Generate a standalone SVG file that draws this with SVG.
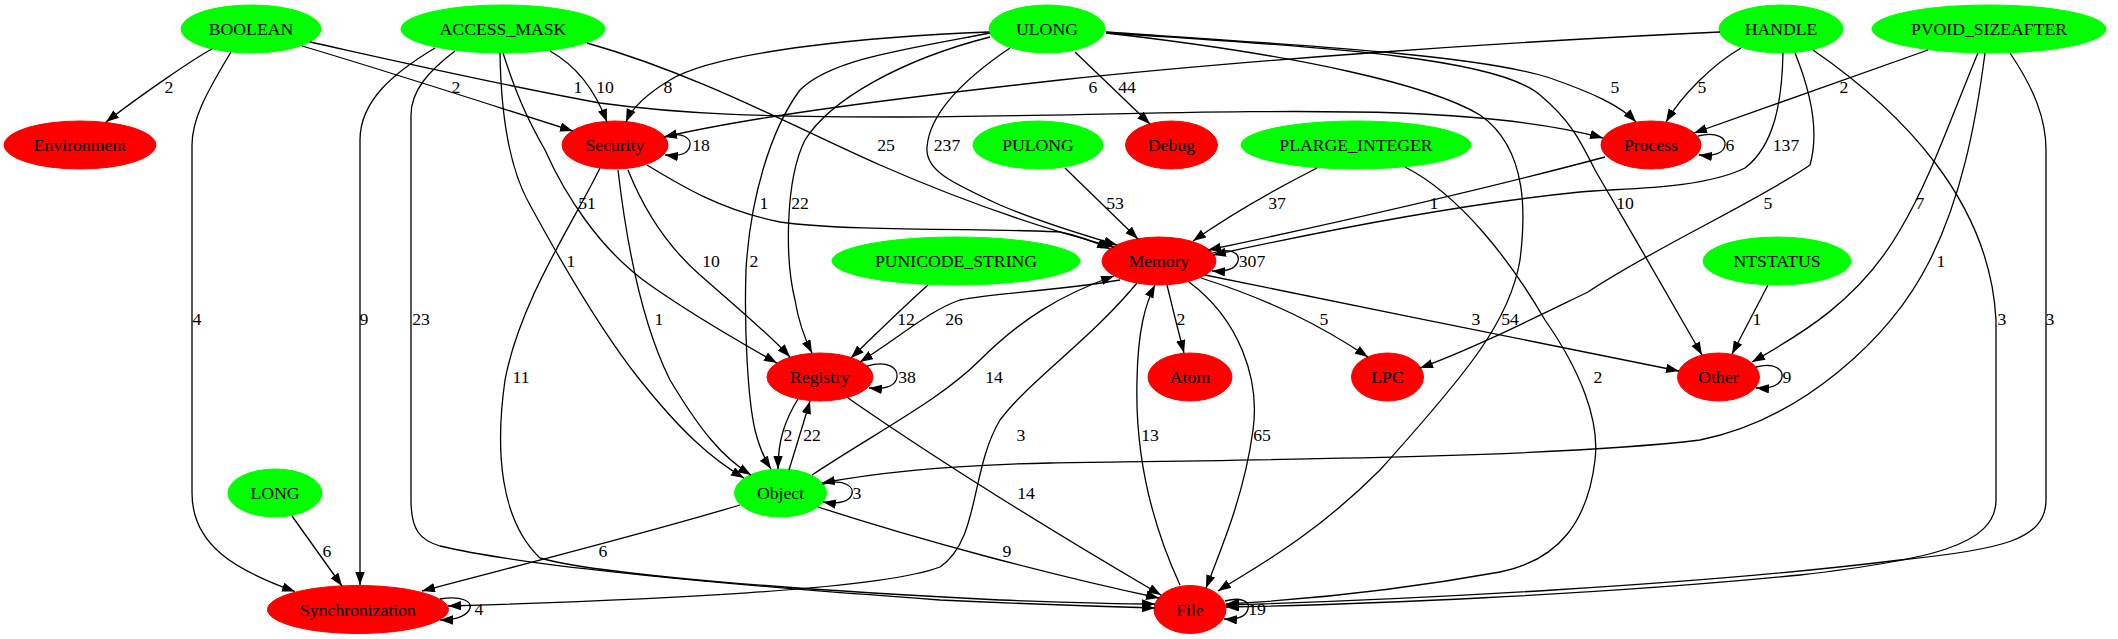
<svg xmlns="http://www.w3.org/2000/svg" width="2118" height="639" viewBox="0 0 2118 639" font-family="'Liberation Serif', 'Times New Roman', serif">
<style>
text{font-family:'Liberation Serif','Times New Roman',serif;font-size:17.7px;text-anchor:middle;fill:#000}
.g{fill:#00ff00;stroke:#00ff00}
.r{fill:#ff0000;stroke:#ff0000}
#edges path{fill:none;stroke:#000;stroke-width:1.3;marker-end:url(#ah)}
</style>
<defs>
<marker id="ah" markerUnits="userSpaceOnUse" markerWidth="14" markerHeight="10" refX="13" refY="4.7" orient="auto">
<path d="M0,0 L13,4.7 L0,9.4 z" fill="#000"/>
</marker>
</defs>
<rect width="2118" height="639" fill="#fff"/>
<g id="nodes">
<g id="BOOLEAN"><ellipse class="g" cx="251" cy="29" rx="70" ry="24"/><text x="251" y="35">BOOLEAN</text></g>
<g id="ACCESS_MASK"><ellipse class="g" cx="503" cy="29" rx="102" ry="24"/><text x="503" y="35">ACCESS_MASK</text></g>
<g id="ULONG"><ellipse class="g" cx="1047" cy="29" rx="58" ry="24"/><text x="1047" y="35">ULONG</text></g>
<g id="HANDLE"><ellipse class="g" cx="1781" cy="29" rx="62" ry="24"/><text x="1781" y="35">HANDLE</text></g>
<g id="PVOID_SIZEAFTER"><ellipse class="g" cx="1989" cy="29" rx="117" ry="24"/><text x="1989" y="35">PVOID_SIZEAFTER</text></g>
<g id="Environment"><ellipse class="r" cx="80" cy="145" rx="76" ry="24"/><text x="80" y="151">Environment</text></g>
<g id="Security"><ellipse class="r" cx="615" cy="145" rx="53" ry="24"/><text x="615" y="151">Security</text></g>
<g id="PULONG"><ellipse class="g" cx="1038" cy="145" rx="65" ry="24"/><text x="1038" y="151">PULONG</text></g>
<g id="Debug"><ellipse class="r" cx="1171.5" cy="145" rx="46" ry="24"/><text x="1171.5" y="151">Debug</text></g>
<g id="PLARGE_INTEGER"><ellipse class="g" cx="1356" cy="145" rx="115" ry="24"/><text x="1356" y="151">PLARGE_INTEGER</text></g>
<g id="Process"><ellipse class="r" cx="1651" cy="145" rx="50" ry="24"/><text x="1651" y="151">Process</text></g>
<g id="PUNICODE_STRING"><ellipse class="g" cx="956" cy="261" rx="124" ry="24"/><text x="956" y="267">PUNICODE_STRING</text></g>
<g id="Memory"><ellipse class="r" cx="1159" cy="261" rx="57" ry="24"/><text x="1159" y="267">Memory</text></g>
<g id="NTSTATUS"><ellipse class="g" cx="1777" cy="261" rx="74" ry="24"/><text x="1777" y="267">NTSTATUS</text></g>
<g id="Registry"><ellipse class="r" cx="820" cy="377" rx="53" ry="24"/><text x="820" y="383">Registry</text></g>
<g id="Atom"><ellipse class="r" cx="1190" cy="377" rx="42" ry="24"/><text x="1190" y="383">Atom</text></g>
<g id="LPC"><ellipse class="r" cx="1387.5" cy="377" rx="36" ry="24"/><text x="1387.5" y="383">LPC</text></g>
<g id="Other"><ellipse class="r" cx="1718.5" cy="377" rx="41" ry="24"/><text x="1718.5" y="383">Other</text></g>
<g id="Object"><ellipse class="g" cx="780.5" cy="493" rx="46" ry="24"/><text x="780.5" y="499">Object</text></g>
<g id="LONG"><ellipse class="g" cx="275" cy="493" rx="47" ry="24"/><text x="275" y="499">LONG</text></g>
<g id="Synchronization"><ellipse class="r" cx="358" cy="609.5" rx="90.5" ry="24"/><text x="358" y="615.5">Synchronization</text></g>
<g id="File"><ellipse class="r" cx="1190" cy="609.5" rx="36" ry="24"/><text x="1190" y="615.5">File</text></g>
</g>
<g id="edges">
<path d="M212,49 C195,58 145,92 106,122"/><text x="169" y="93">2</text>
<path d="M231,52 C205,95 192,120 192,145 L192,493 C192,545 235,570 295,591.5"/><text x="197" y="325">4</text>
<path d="M302,46 C400,75 500,108 573,131"/><text x="456" y="93">2</text>
<path d="M310,42 C400,62 500,85 600,103 C680,114 760,117 900,117 C1050,117 1250,108 1400,113 C1500,117 1560,126 1603,138"/><text x="578" y="93">1</text>
<path d="M550,51 C575,65 595,90 607,122"/><text x="605" y="93">10</text>
<path d="M587,43 C700,75 800,130 880,165 C960,200 1040,228 1114,247"/><text x="886" y="151">25</text>
<path d="M503,53 C515,90 525,115 545,150 C565,195 600,250 650,285 C700,320 745,345 777,363"/><text x="587" y="209">51</text>
<path d="M500,53 C501,120 510,170 530,205 C560,260 600,330 640,380 C680,430 710,458 744,478"/><text x="571" y="267">1</text>
<path d="M435,48 C395,72 360,100 360,140 L360,585"/><text x="364" y="325">9</text>
<path d="M455,51 C430,70 411,90 411,115 L411,500 C411,530 420,540 440,546 C520,565 700,583 940,600 C1050,605 1120,607 1155,608"/><text x="421" y="325">23</text>
<path d="M664,137 C684,130 691,140 690,145 C689,152 682,157 665,155"/><text x="701" y="151">18</text>
<path d="M628,170 C640,200 660,240 700,275 C740,310 770,335 790,357"/><text x="711" y="267">10</text>
<path d="M618,170 C625,230 640,320 670,380 C700,430 722,457 751,475"/><text x="659" y="325">1</text>
<path d="M600,168 C575,220 520,300 505,380 C495,450 500,520 540,558 C600,575 800,590 1000,600 C1080,603 1130,604 1155,604"/><text x="521" y="383">11</text>
<path d="M647,165 C680,185 720,210 780,222 C850,232 1000,228 1060,232 C1080,236 1095,242 1110,249"/><text x="764" y="209">1</text>
<path d="M989,32 C880,36 720,50 670,80 C645,95 632,108 626,122"/><text x="668" y="93">8</text>
<path d="M1075,52 L1150,124"/><text x="1127" y="93">44</text>
<path d="M1010,48 C970,75 930,110 927,147 C925,170 950,182 1000,205 C1040,222 1080,234 1117,245"/><text x="947" y="151">237</text>
<path d="M990,33 C900,50 830,60 800,90 C770,130 750,200 746,270 C744,330 748,400 755,430 C760,450 765,460 771,469"/><text x="754" y="267">2</text>
<path d="M990,37 C900,60 830,100 805,140 C785,180 785,260 795,300 C800,330 808,345 812,353"/><text x="800" y="209">22</text>
<path d="M1106,32 C1300,45 1480,55 1550,78 C1590,92 1620,105 1636,122"/><text x="1615" y="93">5</text>
<path d="M1106,33 C1300,55 1430,85 1480,115 C1530,150 1525,220 1520,260 C1510,320 1470,370 1380,470 C1310,540 1250,570 1218,591"/><text x="1510" y="325">54</text>
<path d="M1106,33 C1350,48 1500,60 1540,95 C1570,120 1580,140 1595,170 C1630,230 1672,302 1702,355"/><text x="1625" y="209">10</text>
<path d="M1720,32 C1500,42 1250,60 1060,80 C900,98 760,115 664,137"/><text x="1093" y="93">6</text>
<path d="M1741,48 C1712,65 1682,95 1666,122"/><text x="1702" y="93">5</text>
<path d="M1783,53 C1782,100 1775,145 1745,168 C1700,190 1620,188 1580,192 C1450,205 1300,236 1213,255"/><text x="1786" y="151">137</text>
<path d="M1795,53 C1810,90 1820,130 1810,165 C1760,200 1650,250 1588,292 C1530,320 1470,350 1420,368"/><text x="1768" y="209">5</text>
<path d="M1813,50 C1900,110 1990,200 1996,320 L1996,500 C1996,545 1930,560 1800,575 C1600,595 1350,605 1226,607"/><text x="2002" y="325">3</text>
<path d="M1928,50 L1694,133"/><text x="1844" y="93">2</text>
<path d="M1978,53 C1950,120 1930,180 1900,230 C1860,300 1800,335 1752,362"/><text x="1920" y="209">7</text>
<path d="M1985,53 C1975,130 1960,200 1930,260 C1890,340 1800,420 1700,440 C1550,458 1250,460 1050,463 C950,465 880,472 822,483"/><text x="1941" y="267">1</text>
<path d="M2010,53 C2035,90 2046,120 2046,150 L2046,500 C2046,540 2000,550 1900,560 C1700,585 1400,600 1226,605"/><text x="2050" y="325">3</text>
<path d="M1065,168 L1138,239"/><text x="1115" y="209">53</text>
<path d="M1317,168 C1270,192 1230,215 1193,241"/><text x="1277" y="209">37</text>
<path d="M1405,167 C1460,195 1510,260 1545,320 C1580,370 1600,420 1595,460 C1588,520 1560,560 1500,572 C1400,590 1300,600 1226,604"/><text x="1598" y="383">2</text>
<path d="M928,285 C900,310 875,335 851,358"/><text x="906" y="325">12</text>
<path d="M1120,280 C1050,292 990,293 960,300 C930,310 900,337 860,362"/><text x="954" y="325">26</text>
<path d="M812,475 C880,430 940,400 980,360 C1020,320 1060,295 1114,276"/><text x="994" y="383">14</text>
<path d="M1213,253 C1232,247 1240,254 1238,261 C1236,268 1229,272 1212,271"/><text x="1252" y="267">307</text>
<path d="M1167,285 C1173,310 1178,330 1184,353"/><text x="1181" y="325">2</text>
<path d="M1201,278 C1270,300 1320,325 1368,357"/><text x="1324" y="325">5</text>
<path d="M1205,275 C1350,305 1550,345 1679,371"/><text x="1476" y="325">3</text>
<path d="M1189,282 C1240,320 1260,380 1253,430 C1245,490 1225,540 1206,588"/><text x="1262" y="441">65</text>
<path d="M1137,283 C1090,340 1030,380 1000,420 C970,470 980,540 940,567 C880,590 650,600 448,606"/><text x="1021" y="441">3</text>
<path d="M867,366 C888,360 898,368 897,377 C896,385 887,390 869,388"/><text x="907" y="383">38</text>
<path d="M798,399 C785,420 778,440 778,469"/><text x="788" y="441">2</text>
<path d="M789,470 C795,450 803,425 810,401"/><text x="812" y="441">22</text>
<path d="M848,398 C930,455 1050,530 1161,595"/><text x="1026" y="499">14</text>
<path d="M823,484 C846,478 854,488 852,494 C850,500 842,505 823,502"/><text x="857" y="499">3</text>
<path d="M740,505 C640,535 520,565 422,591"/><text x="603" y="557">6</text>
<path d="M818,507 C920,540 1050,575 1159,598"/><text x="1007" y="557">9</text>
<path d="M1225,601 C1244,596 1250,603 1248,609 C1246,616 1240,620 1224,619"/><text x="1257" y="615">19</text>
<path d="M1180,585 C1150,520 1135,450 1137,380 C1138,330 1145,305 1155,285"/><text x="1150" y="441">13</text>
<path d="M440,599 C462,595 472,602 470,608 C468,615 458,620 440,620"/><text x="479" y="615">4</text>
<path d="M292,516 L342,586"/><text x="327" y="557">6</text>
<path d="M1768,285 L1732,354"/><text x="1757" y="325">1</text>
<path d="M1756,367 C1775,362 1783,370 1782,377 C1781,384 1773,389 1756,388"/><text x="1787" y="383">9</text>
<path d="M1698,136 C1718,131 1726,139 1725,145 C1724,152 1716,157 1699,155"/><text x="1730" y="151">6</text>
<path d="M1605,157 C1500,185 1350,220 1208,250"/><text x="1434" y="209">1</text>
</g>
</svg>
